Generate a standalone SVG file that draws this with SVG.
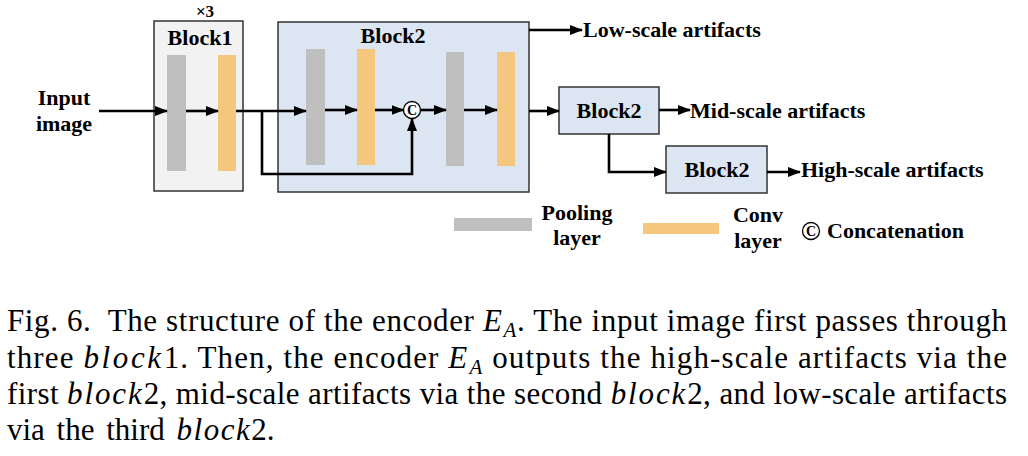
<svg xmlns="http://www.w3.org/2000/svg" width="1028" height="456" viewBox="0 0 1028 456">
<style>
.lbl{font-family:'Liberation Serif','DejaVu Serif',serif;font-weight:bold;font-size:22px;fill:#000}
.cap{font-family:'Liberation Serif','DejaVu Serif',serif;font-size:31px;fill:#000}
.it{font-style:italic}
.mb{font-style:italic;letter-spacing:1.5px}
.ln{fill:none;stroke:#000;stroke-width:2.6}
.arr{marker-end:url(#ah)}
.pool{fill:#bfbfbf}
.conv{fill:#f5c77e}
.box1{fill:#f2f2f2;stroke:#333;stroke-width:1.5}
.box2{fill:#dce6f2;stroke:#333;stroke-width:1.5}
.cc{fill:#fff;stroke:#000;stroke-width:1.3}
.ctext{font-family:'Liberation Serif','DejaVu Serif',serif;font-weight:bold;font-size:14px;fill:#000}
</style>
<defs>
<marker id="ah" markerUnits="userSpaceOnUse" markerWidth="13" markerHeight="10" refX="12" refY="5" orient="auto">
<path d="M0,0 L13,5 L0,10 z" fill="#000"/>
</marker>
</defs>
<rect width="1028" height="456" fill="#fff"/>

<g id="input">
<text class="lbl" x="64" y="105" text-anchor="middle">Input</text>
<text class="lbl" x="64" y="131" text-anchor="middle">image</text>
</g>

<g id="block1">
<text class="lbl" x="205" y="17" text-anchor="middle" style="font-size:17px">×3</text>
<rect class="box1" x="154" y="21" width="89" height="170"/>
<text class="lbl" x="200" y="45" text-anchor="middle">Block1</text>
<rect class="pool" x="167" y="55" width="19" height="116"/>
<rect class="conv" x="218" y="55" width="18" height="116"/>
</g>

<g id="block2-main">
<rect class="box2" x="278" y="22" width="251" height="170"/>
<text class="lbl" x="393" y="43" text-anchor="middle">Block2</text>
<rect class="pool" x="306" y="49" width="19" height="116"/>
<rect class="conv" x="357" y="49" width="18" height="116"/>
<rect class="pool" x="446" y="52" width="18" height="114"/>
<rect class="conv" x="497" y="52" width="18" height="114"/>
<circle class="cc" cx="412" cy="110" r="8.5"/>
<text class="ctext" x="412" y="115" text-anchor="middle">C</text>
</g>

<g id="block2-mid">
<rect class="box2" x="559" y="87" width="100" height="47"/>
<text class="lbl" x="609" y="118" text-anchor="middle">Block2</text>
</g>

<g id="block2-high">
<rect class="box2" x="666" y="146" width="101" height="47"/>
<text class="lbl" x="717" y="177" text-anchor="middle">Block2</text>
</g>

<g id="outputs">
<text class="lbl" x="583" y="37">Low-scale artifacts</text>
<text class="lbl" x="690" y="118">Mid-scale artifacts</text>
<text class="lbl" x="801" y="177">High-scale artifacts</text>
</g>

<g id="connectors">
<path class="ln arr" d="M99,111 H167"/>
<path class="ln arr" d="M186,111 H218"/>
<path class="ln arr" d="M236,111 H306"/>
<path class="ln arr" d="M262,111 V174 H412 V119"/>
<path class="ln arr" d="M325,110 H357"/>
<path class="ln arr" d="M375,110 H403.5"/>
<path class="ln arr" d="M420.5,110 H446"/>
<path class="ln arr" d="M464,110 H497"/>
<path class="ln arr" d="M529,111 H559"/>
<path class="ln arr" d="M529,30 H582"/>
<path class="ln arr" d="M659,110 H690"/>
<path class="ln arr" d="M609,134 V172 H666"/>
<path class="ln arr" d="M767,172 H800"/>
</g>

<g id="legend">
<rect class="pool" x="454" y="218" width="78" height="13"/>
<text class="lbl" x="577" y="220" text-anchor="middle">Pooling</text>
<text class="lbl" x="577" y="245" text-anchor="middle">layer</text>
<rect class="conv" x="643" y="223" width="76" height="11"/>
<text class="lbl" x="758" y="222" text-anchor="middle">Conv</text>
<text class="lbl" x="758" y="248" text-anchor="middle">layer</text>
<circle class="cc" cx="811" cy="231" r="8.5"/>
<text class="ctext" x="811" y="236" text-anchor="middle">C</text>
<text class="lbl" x="827" y="238">Concatenation</text>
</g>

<g id="caption">
<text class="cap" x="7" y="331" textLength="1000" lengthAdjust="spacing">Fig. 6.&#160; The structure of the encoder <tspan class="it">E</tspan><tspan class="it" dy="6" dx="1" style="font-size:21px">A</tspan><tspan dy="-6">. The input image first passes through</tspan></text>
<text class="cap" x="7" y="367.5" textLength="1000" lengthAdjust="spacing">three <tspan class="mb">block</tspan>1. Then, the encoder <tspan class="it">E</tspan><tspan class="it" dy="6" dx="1" style="font-size:21px">A</tspan><tspan dy="-6"> outputs the high-scale artifacts via the</tspan></text>
<text class="cap" x="7" y="404" textLength="1000" lengthAdjust="spacing">first <tspan class="mb">block</tspan>2, mid-scale artifacts via the second <tspan class="mb">block</tspan>2, and low-scale artifacts</text>
<text class="cap" x="7" y="440" style="word-spacing:4px">via the third <tspan class="mb">block</tspan>2.</text>
</g>
</svg>
